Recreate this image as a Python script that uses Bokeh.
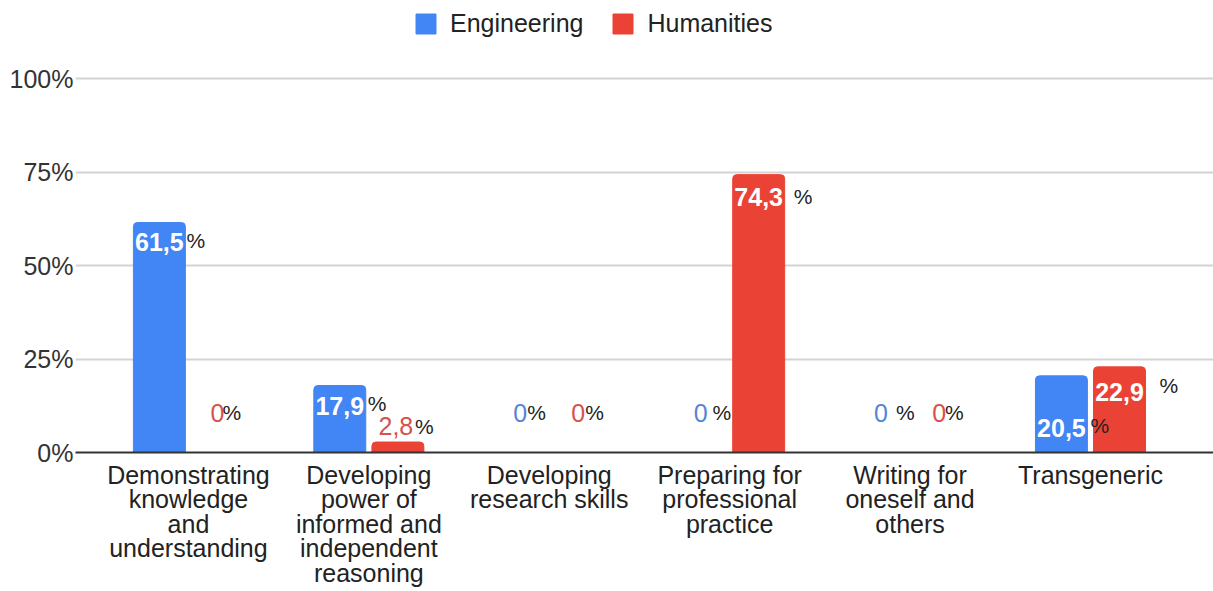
from bokeh.plotting import figure
from bokeh.models import ColumnDataSource, FixedTicker, Legend, LegendItem, Range1d
from bokeh.core.properties import value
from bokeh.embed import file_html
from bokeh.resources import INLINE

# ---------------- data ----------------
categories = [
    "Demonstrating\nknowledge\nand\nunderstanding",
    "Developing\npower of\ninformed and\nindependent\nreasoning",
    "Developing\nresearch skills",
    "Preparing for\nprofessional\npractice",
    "Writing for\noneself and\nothers",
    "Transgeneric",
]
series_names = ["Engineering", "Humanities"]
engineering = [61.5, 17.9, 0, 0, 0, 20.5]
humanities = [0, 2.8, 0, 74.3, 0, 22.9]
y_ticks = [0, 25, 50, 75, 100]
y_tick_labels = ["0%", "25%", "50%", "75%", "100%"]

# ---------------- styling / label layout (screen px) ----------------
BLUE = "#4285F4"
RED = "#EA4335"
BLUE_TXT = "#5585d6"
RED_TXT = "#d6524a"
FONT = "Liberation Sans"
BAR_W = 0.288
DODGE = 0.161

eng_num_dy = [20, 20, -40, -40, -40, 52]
eng_pct_dy = [18, 18, -40, -40, -40, 50]
eng_pct_dx = [27, 28, 7, 12, 15, 29]
hum_num_dy = [-40, -16, -40, 22, -40, 25]
hum_pct_dy = [-40, -16, -40, 22, -40, 19]
hum_pct_dx = [5, 17, 7, 35, 6, 40]
hum_num_dx = [0, -2, 0, 0, 0, 0]

idx = list(range(len(categories)))
eng_x = [i - DODGE for i in idx]
hum_x = [i + DODGE for i in idx]


def fmt(v):
    return f"{v:g}".replace(".", ",")


p = figure(
    width=1213, height=591,
    x_range=Range1d(-0.626, 5.682), y_range=Range1d(0, 120.86),
    output_backend="svg", toolbar_location=None,
    min_border_left=75, min_border_right=0, min_border_top=0, min_border_bottom=139,
)
p.outline_line_color = None
p.background_fill_color = "white"
p.border_fill_color = "white"
p.xgrid.grid_line_color = None
p.ygrid.grid_line_color = "#d3d3d3"
p.ygrid.grid_line_width = 2
p.ygrid.ticker = FixedTicker(ticks=y_ticks)

r_eng = p.vbar(x=eng_x, top=engineering, width=BAR_W, color=BLUE, border_radius=(4, 4, 0, 0))
r_hum = p.vbar(x=hum_x, top=humanities, width=BAR_W, color=RED, border_radius=(4, 4, 0, 0))


def add_labels(xs, vals, num_dy, pct_dx, pct_dy, txtcol, num_dx):
    inside = [v >= 10 for v in vals]
    src = ColumnDataSource(dict(
        x=xs, y=vals, txt=[fmt(v) for v in vals],
        col=["white" if ins else txtcol for ins in inside],
        style=["bold" if ins else "normal" for ins in inside],
        dy=num_dy, dx=num_dx, pdx=pct_dx, pdy=pct_dy,
        pct=["%"] * len(vals),
    ))
    p.text(x="x", y="y", text="txt", source=src, text_color="col", text_font=value(FONT),
           text_font_size="25px", text_font_style="style", text_align="center",
           text_baseline="middle", x_offset="dx", y_offset="dy")
    p.text(x="x", y="y", text="pct", source=src, text_color="#222222", text_font=value(FONT),
           text_font_size="21px", text_align="left", text_baseline="middle",
           x_offset="pdx", y_offset="pdy")


add_labels(eng_x, engineering, eng_num_dy, eng_pct_dx, eng_pct_dy, BLUE_TXT, [0] * 6)
add_labels(hum_x, humanities, hum_num_dy, hum_pct_dx, hum_pct_dy, RED_TXT, hum_num_dx)

# axes
xa = p.xaxis[0]
xa.ticker = FixedTicker(ticks=idx)
xa.major_label_overrides = {i: c for i, c in zip(idx, categories)}
xa.axis_line_color = "#333333"
xa.axis_line_width = 2
xa.major_tick_line_color = None
xa.minor_tick_line_color = None
xa.major_tick_out = 0
xa.major_tick_in = 0
xa.major_label_standoff = 8
xa.major_label_text_font = FONT
xa.major_label_text_font_size = "25px"
xa.major_label_text_color = "#222222"
xa.major_label_text_line_height = 0.88

ya = p.yaxis[0]
ya.ticker = FixedTicker(ticks=y_ticks)
ya.major_label_overrides = {t: l for t, l in zip(y_ticks, y_tick_labels)}
ya.axis_line_color = None
ya.major_tick_line_color = None
ya.minor_tick_line_color = None
ya.major_tick_out = 0
ya.major_tick_in = 0
ya.major_label_standoff = 2
ya.major_label_text_font = FONT
ya.major_label_text_font_size = "25px"
ya.major_label_text_color = "#333333"

legend = Legend(
    items=[LegendItem(label=series_names[0], renderers=[r_eng]),
           LegendItem(label=series_names[1], renderers=[r_hum])],
    orientation="horizontal", location=(338, 414),
    glyph_width=25, glyph_height=25, label_height=25, label_standoff=12, spacing=27,
    padding=0, margin=0, border_line_color=None, background_fill_alpha=0,
    label_text_font=FONT, label_text_font_size="25px", label_text_color="#222222",
)
p.add_layout(legend)

open("out.html", "w").write(file_html(p, INLINE))
